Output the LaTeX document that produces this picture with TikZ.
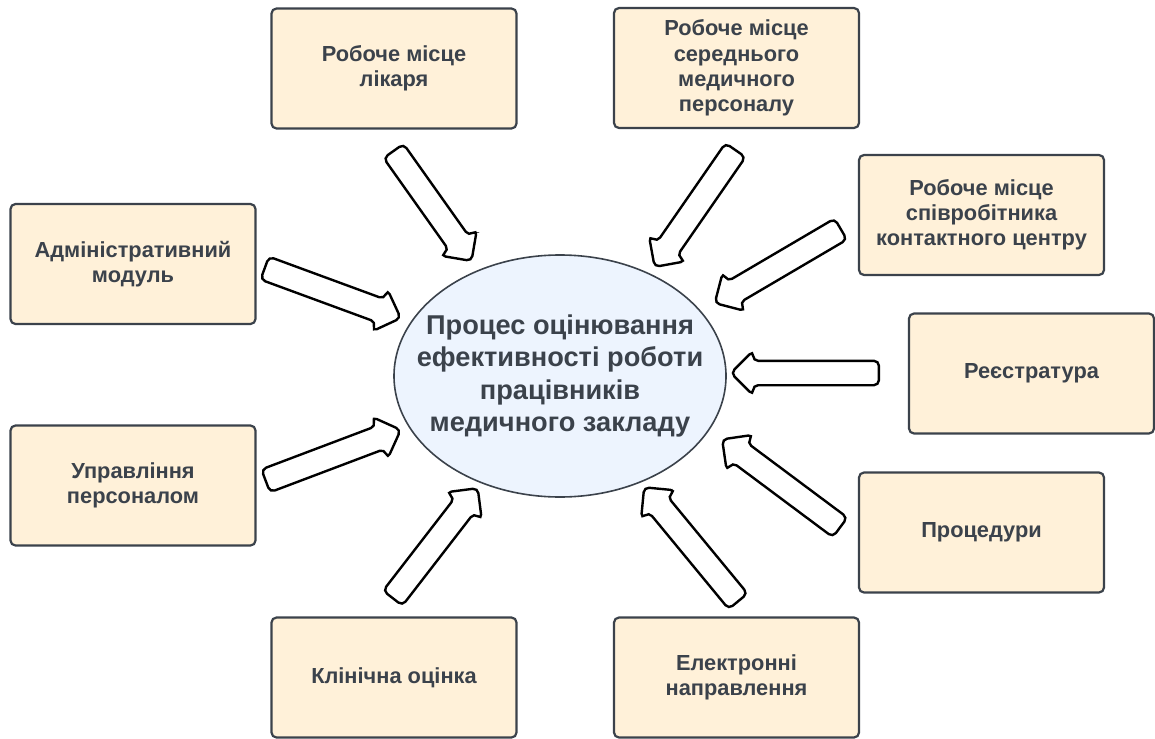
\documentclass[tikz,border=0pt]{standalone}
\usepackage{fontspec}
\setmainfont{Liberation Sans}
\usepackage{tikz}
\usetikzlibrary{shapes.geometric,shapes.arrows,calc}

\definecolor{boite}{HTML}{FFF1D9}
\definecolor{bord}{HTML}{3B424B}
\definecolor{bulle}{HTML}{EDF4FE}

\tikzset{
  module/.style={rectangle,rounded corners=2.5pt,draw=bord,line width=1.1pt,fill=boite,
    minimum width=122.5pt,minimum height=60pt,inner sep=0pt,align=center,text=bord,
    font=\bfseries\fontsize{10.9}{12.6}\selectfont},
  processus/.style={ellipse,draw=bord,line width=0.8pt,fill=bulle,
    minimum width=166pt,minimum height=121pt,inner sep=0pt},
  textecentre/.style={align=center,text=bord,inner sep=0pt,
    font=\bfseries\fontsize{13.6}{16.3}\selectfont},
  fleche/.style={single arrow,draw=black,line width=1.2pt,fill=white,rounded corners=2.5pt,
    inner xsep=0pt,inner ysep=5.5pt,single arrow head extend=5pt,single arrow tip angle=90,
    sloped,allow upside down}
}

% flèche épaisse entre deux points nommés
\newcommand{\grossefleche}[2]{%
  \path let \p1=($(#2)-(#1)$), \n1={veclen(\x1,\y1)} in
    (#1) -- (#2) node[midway,fleche,minimum height=\n1]{};}

\begin{document}
\begin{tikzpicture}[x=0.5pt,y=-0.5pt]
  \useasboundingbox (0,0) rectangle (1155,738);

  % Nœud central
  \node[processus] (proc) at (560,376) {};
  \node[textecentre] (proc-texte) at (proc.center)
    {Процес оцінювання\\ефективності роботи\\працівників\\медичного закладу};

  % Modules autour
  \node[module] (likar) at (394,68.5) {Робоче місце\\лікаря};
  \node[module] (seredn) at (736.5,68) {Робоче місце\\середнього\\медичного\\персоналу};
  \node[module] (kontakt) at (981.5,215) {Робоче місце\\співробітника\\контактного центру};
  \node[module] (admin) at (133,264) {Адміністративний\\модуль};
  \node[module] (reestr) at (1031.5,373.5) {Реєстратура};
  \node[module] (uprav) at (133,485.5) {Управління\\персоналом};
  \node[module] (proced) at (981.5,532.5) {Процедури};
  \node[module] (klinik) at (394,677.5) {Клінічна оцінка};
  \node[module] (napr) at (736.5,677.5) {Електронні\\направлення};

  % Points de départ et d'arrivée des flèches
  \coordinate (likar-d) at (390,146);   \coordinate (likar-a) at (468,256);
  \coordinate (seredn-d) at (739,145);  \coordinate (seredn-a) at (658,262);
  \coordinate (kontakt-d) at (846,226); \coordinate (kontakt-a) at (720,300);
  \coordinate (admin-d) at (259,266);   \coordinate (admin-a) at (395,316);
  \coordinate (reestr-d) at (885,373);  \coordinate (reestr-a) at (737,373);
  \coordinate (uprav-d) at (260,483);   \coordinate (uprav-a) at (395,432);
  \coordinate (proced-d) at (845,531);  \coordinate (proced-a) at (727,443);
  \coordinate (klinik-d) at (389,603);  \coordinate (klinik-a) at (474,493);
  \coordinate (napr-d) at (742,606);    \coordinate (napr-a) at (648,492);

  % Flèches vers le processus
  \foreach \m in {likar,seredn,kontakt,admin,reestr,uprav,proced,klinik,napr}
    {\grossefleche{\m-d}{\m-a}}
\end{tikzpicture}
\end{document}
